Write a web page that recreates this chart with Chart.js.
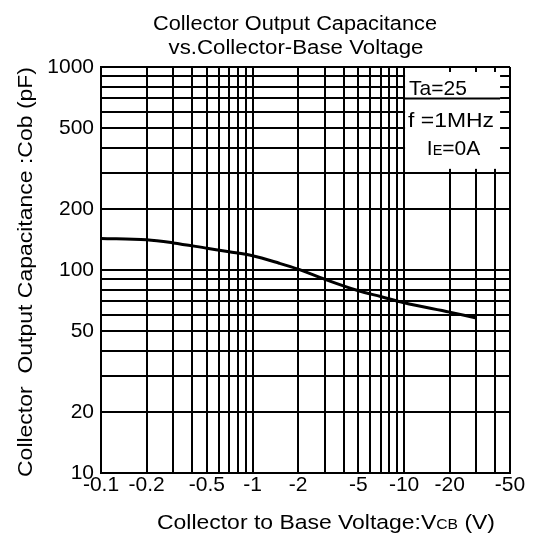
<!DOCTYPE html>
<html>
<head>
<meta charset="utf-8">
<script src="https://cdn.jsdelivr.net/npm/chart.js@4.4.0/dist/chart.umd.min.js"></script>
<style>
html,body{margin:0;padding:0;background:#fff;}
</style>
</head>
<body>
<canvas id="cobChart" width="539" height="539"></canvas>
<script>
// Cob vs |VCB|
const vcb = [0.1, 0.2, 0.3, 0.5, 0.7, 1, 1.5, 2, 3, 5, 7, 10, 20, 30];
const cob = [143, 141, 136, 128, 123, 117.5, 108, 101, 90, 79, 74, 69, 62, 58];

const xGrid = [0.1,0.2,0.3,0.4,0.5,0.6,0.7,0.8,0.9,1,2,3,4,5,6,7,8,9,10,20,30,40,50];
const xLabels = [0.1, 0.2, 0.5, 1, 2, 5, 10, 20, 50];
const yGrid = [10,20,30,40,50,60,70,80,90,100,200,300,400,500,600,700,800,900,1000];
const yLabels = [10, 20, 50, 100, 200, 500, 1000];

const FONT = '"Liberation Sans", Arial, sans-serif';

// draws text pieces of mixed size one after another
// align: 'center' or 'left'; width: optional target width (stretches horizontally)
function drawRuns(ctx, runs, x, y, align, width){
    let total = 0;
    runs.forEach(r => { ctx.font = r[1] + 'px ' + FONT; total += ctx.measureText(r[0]).width; });
    const sx = width ? width / total : 1;
    ctx.save();
    ctx.translate(x, y);
    ctx.scale(sx, 1);
    let cx = align === 'left' ? 0 : -total / 2;
    runs.forEach(r => {
        ctx.font = r[1] + 'px ' + FONT;
        ctx.fillText(r[0], cx, 0);
        cx += ctx.measureText(r[0]).width;
    });
    ctx.restore();
}

const textPlugin = {
    id: 'texts',
    beforeDatasetsDraw(chart){
        const ctx = chart.ctx;
        const x = chart.scales.x, y = chart.scales.y;
        // condition box in the upper right corner
        const l = x.getPixelForValue(10) + 1, r = x.getPixelForValue(43);
        const t = y.getPixelForValue(945), b = y.getPixelForValue(315);
        ctx.save();
        ctx.fillStyle = '#fff';
        ctx.fillRect(l, t, r - l, b - t);
        ctx.strokeStyle = '#000';
        ctx.lineWidth = 2;
        const y700 = y.getPixelForValue(700);
        ctx.beginPath();
        ctx.moveTo(l - 1, y700);
        ctx.lineTo(r, y700);
        ctx.stroke();
        ctx.fillStyle = '#000';
        ctx.textBaseline = 'alphabetic';
        drawRuns(ctx, [['Ta=25', 21]], l + 4, y700 - 3, 'left');
        drawRuns(ctx, [['f =1MHz', 21]], l + 3, y700 + 29, 'left', 86);
        drawRuns(ctx, [['I', 21], ['E', 14.5], ['=0A', 21]], (l + r) / 2 + 1, y700 + 57);
        ctx.restore();
    },
    afterDraw(chart){
        const ctx = chart.ctx;
        const area = chart.chartArea;
        ctx.save();
        ctx.fillStyle = '#000';
        ctx.textBaseline = 'alphabetic';
        drawRuns(ctx, [['Collector Output Capacitance', 20]], 295, 30, 'center', 284);
        drawRuns(ctx, [['vs.Collector-Base Voltage', 20]], 296, 54, 'center', 255);
        drawRuns(ctx, [['Collector to Base Voltage:V', 20.5], ['CB', 14], [' (V)', 20.5]], 326, 529, 'center', 338);
        ctx.translate(32, 272);
        ctx.rotate(-Math.PI / 2);
        drawRuns(ctx, [['Collector  Output Capacitance :Cob (pF)', 20.5]], 0, 0, 'center', 410);
        ctx.restore();
    }
};

const ctx = document.getElementById('cobChart');
new Chart(ctx, {
    type: 'line',
    data: {
        datasets: [{
            label: 'Cob',
            data: vcb.map((v, i) => ({x: v, y: cob[i]})),
            borderColor: '#000',
            borderWidth: 3,
            pointRadius: 0,
            cubicInterpolationMode: 'monotone',
            fill: false,
        }]
    },
    options: {
        responsive: false,
        animation: false,
        layout: {
            padding: {top: 67, right: 29, left: 0, bottom: 0}
        },
        scales: {
            x: {
                type: 'logarithmic',
                min: 0.1,
                max: 50,
                afterBuildTicks: scale => { scale.ticks = xGrid.map(v => ({value: v})); },
                afterFit: scale => { scale.height = 66; },
                grid: {color: '#000', lineWidth: 2, drawTicks: false},
                border: {color: '#000', width: 2},
                ticks: {
                    autoSkip: false,
                    maxRotation: 0,
                    padding: 0,
                    color: '#000',
                    font: {family: FONT, size: 21},
                    callback: v => xLabels.includes(v) ? '-' + v : ''
                }
            },
            y: {
                type: 'logarithmic',
                min: 10,
                max: 1000,
                afterBuildTicks: scale => { scale.ticks = yGrid.map(v => ({value: v})); },
                afterFit: scale => { scale.width = 101; },
                grid: {color: '#000', lineWidth: 2, drawTicks: false},
                border: {color: '#000', width: 2},
                ticks: {
                    autoSkip: false,
                    padding: 7,
                    color: '#000',
                    font: {family: FONT, size: 21},
                    callback: v => yLabels.includes(v) ? String(v) : ''
                }
            }
        },
        plugins: {
            legend: {display: false},
            tooltip: {enabled: false}
        }
    },
    plugins: [textPlugin]
});
</script>
</body>
</html>
